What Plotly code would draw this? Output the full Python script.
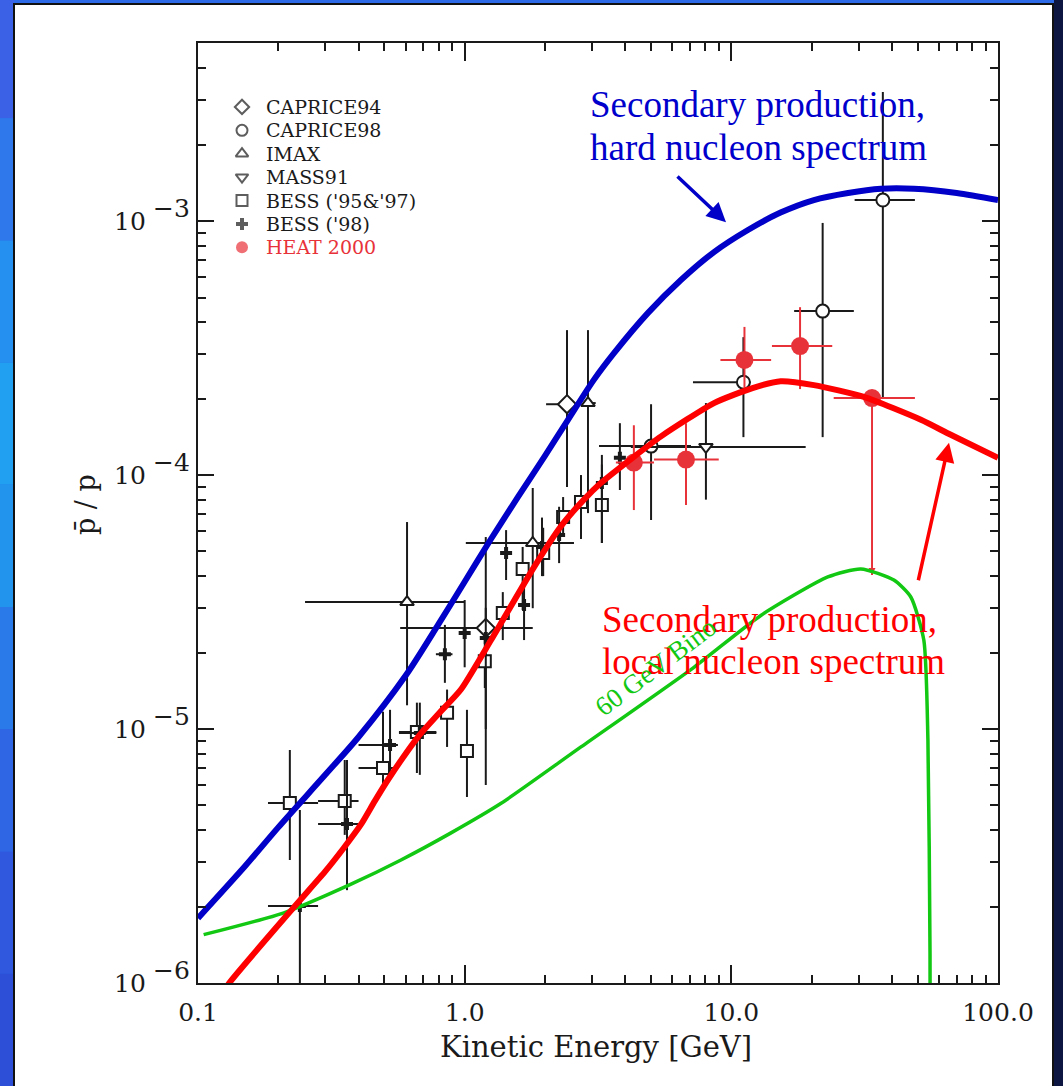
import numpy as np
import plotly.graph_objects as go

# ---------------- model curves (kinetic energy in GeV, pbar/p ratio) ----------------
hard_E = [0.1, 0.15, 0.2, 0.3, 0.4, 0.6, 0.8, 1.0, 1.25, 1.585, 2.0, 2.44, 3.05, 3.63,
          4.87, 6.47, 8.61, 11.5, 15.3, 20.4, 27.4, 36.4, 48.4, 70.0, 100.0]
hard_R = [1.80e-6, 2.88e-6, 4.10e-6, 6.60e-6, 9.30e-6, 1.62e-5, 2.60e-5, 3.80e-5, 5.56e-5,
          8.20e-5, 1.19e-4, 1.65e-4, 2.37e-4, 3.02e-4, 4.35e-4, 5.86e-4, 7.55e-4, 9.2e-4,
          1.08e-3, 1.21e-3, 1.29e-3, 1.34e-3, 1.34e-3, 1.29e-3, 1.21e-3]

local_E = [0.125, 0.131, 0.229, 0.30, 0.352, 0.408, 0.46, 0.515, 0.668, 0.80, 0.968, 1.256,
           1.82, 2.30, 2.8, 3.24, 4.31, 5.45, 8.61, 12.0, 15.3, 20.4, 31.4, 51.4, 66.5, 100.0]
local_R = [9.2e-7, 1.0e-6, 1.99e-6, 2.75e-6, 3.40e-6, 4.2e-6, 5.2e-6, 6.3e-6, 9.3e-6, 1.15e-5,
           1.43e-5, 2.24e-5, 4.34e-5, 6.3e-5, 8.0e-5, 9.3e-5, 1.18e-4, 1.42e-4, 1.92e-4,
           2.2e-4, 2.34e-4, 2.26e-4, 2.03e-4, 1.65e-4, 1.44e-4, 1.17e-4]

bino_E = [0.105, 0.210, 0.375, 0.577, 0.889, 1.37, 2.73, 7.24, 12.9, 23.0, 30.6, 40.7,
          47.1, 52.7, 54.6, 55.6, 55.7]
bino_R = [1.55e-6, 1.89e-6, 2.45e-6, 3.05e-6, 3.9e-6, 5.1e-6, 8.5e-6, 1.75e-5, 2.8e-5,
          3.97e-5, 4.27e-5, 3.86e-5, 3.31e-5, 2.24e-5, 9.06e-6, 1.3e-6, 5.0e-7]

# ---------------- measurements ----------------
# each set: energy, ratio, energy-bin low/high, ratio low/high
caprice94_E = [1.20, 2.42]
caprice94_R = [2.50e-5, 1.90e-4]
caprice94_Elo = [0.573, 2.02]
caprice94_Ehi = [1.80, 2.57]
caprice94_Rlo = [6.02e-6, 8.97e-5]
caprice94_Rhi = [5.70e-5, 3.72e-4]

caprice98_E = [5.0, 11.1, 22.0, 37.0]
caprice98_R = [1.30e-4, 2.32e-4, 4.42e-4, 1.21e-3]
caprice98_Elo = [3.19, 7.18, 17.2, 29.0]
caprice98_Ehi = [7.06, 11.8, 28.8, 48.8]
caprice98_Rlo = [6.65e-5, 1.41e-4, 1.41e-4, 2.03e-4]
caprice98_Rhi = [1.90e-4, 3.49e-4, 9.83e-4, 3.22e-3]

imax_E = [0.608, 1.80, 2.90]
imax_R = [3.16e-5, 5.40e-5, 1.92e-4]
imax_Elo = [0.252, 1.01, 2.90]
imax_Ehi = [1.0, 2.57, 3.10]
imax_Rlo = [1.24e-5, 2.99e-5, 7.08e-5]
imax_Rhi = [6.53e-5, 8.89e-5, 3.72e-4]

mass91_E = [8.03]
mass91_R = [1.29e-4]
mass91_Elo = [4.2]
mass91_Ehi = [19.0]
mass91_Rlo = [8.0e-5]
mass91_Rhi = [1.92e-4]

bess9597_E = [0.221, 0.355, 0.494, 0.662, 0.859, 1.02, 1.19, 1.39, 1.65, 1.97, 2.34, 2.73, 3.27]
bess9597_R = [5.11e-6, 5.21e-6, 7.02e-6, 9.73e-6, 1.16e-5, 8.19e-6, 1.85e-5, 2.86e-5,
              4.27e-5, 4.93e-5, 6.84e-5, 7.83e-5, 7.62e-5]
bess9597_Elo = [0.183, 0.282, 0.400, 0.567, 0.859, 0.98, 1.19, 1.36, 1.62, 1.93, 2.30, 2.68, 3.20]
bess9597_Ehi = [0.282, 0.400, 0.562, 0.783, 0.859, 1.02, 1.19, 1.39, 1.65, 1.97, 2.34, 2.73, 3.27]
bess9597_Rlo = [3.05e-6, 3.83e-6, 5.75e-6, 6.71e-6, 8.5e-6, 5.40e-6, 1.45e-5, 2.24e-5,
                2.94e-5, 4.0e-5, 5.70e-5, 5.6e-5, 5.4e-5]
bess9597_Rhi = [8.27e-6, 7.55e-6, 1.17e-5, 1.27e-5, 1.43e-5, 1.19e-5, 2.3e-5, 3.46e-5,
                5.21e-5, 6.2e-5, 8.19e-5, 1.0e-4, 1.1e-4]

bess98_E = [0.241, 0.362, 0.525, 0.679, 0.843, 1.00, 1.20, 1.43, 1.67, 1.95, 2.26, 3.27, 3.82]
bess98_R = [2.01e-6, 4.23e-6, 8.66e-6, 9.64e-6, 1.97e-5, 2.39e-5, 2.28e-5, 4.93e-5,
            3.08e-5, 5.21e-5, 5.80e-5, 9.3e-5, 1.17e-4]
bess98_Elo = [0.183, 0.282, 0.400, 0.567, 0.78, 0.96, 1.15, 1.38, 1.60, 1.90, 2.20, 3.17, 3.70]
bess98_Ehi = [0.282, 0.400, 0.562, 0.783, 0.90, 1.04, 1.25, 1.48, 1.74, 2.00, 2.32, 3.37, 3.95]
bess98_Rlo = [5.0e-7, 2.32e-6, 6.71e-6, 6.6e-6, 1.52e-5, 1.75e-5, 1.0e-5, 3.86e-5,
              2.24e-5, 4.0e-5, 4.5e-5, 5.40e-5, 8.73e-5]
bess98_Rhi = [4.8e-6, 7.55e-6, 1.19e-5, 1.27e-5, 2.57e-5, 3.22e-5, 3.0e-5, 6.07e-5,
              3.76e-5, 6.8e-5, 7.5e-5, 1.20e-4, 1.60e-4]

heat_E = [4.31, 6.76, 11.2, 18.1, 33.7]
heat_R = [1.12e-4, 1.15e-4, 2.84e-4, 3.22e-4, 2.01e-4]
heat_Elo = [3.69, 5.13, 9.1, 14.2, 24.2]
heat_Ehi = [5.13, 8.97, 14.1, 23.9, 48.8]
heat_Rlo = [7.28e-5, 7.62e-5, 2.20e-4, 2.18e-4, 4.04e-5]
heat_Rhi = [1.57e-4, 1.60e-4, 3.83e-4, 4.58e-4, 2.01e-4]

legend_names = ["CAPRICE94", "CAPRICE98", "IMAX", "MASS91", "BESS ('95&'97)", "BESS ('98)", "HEAT 2000"]

x_ticks = [0.1, 1.0, 10.0, 100.0]
x_labels = ["0.1", "1.0", "10.0", "100.0"]
y_exponents = [-6, -5, -4, -3]

# ---------------- styling ----------------
INK = "#1a1a1a"
HEAT_RED = "#e8323a"
AXIS_FONT = "DejaVu Serif"
NOTE_FONT = "Liberation Serif"


def bars(v, lo, hi, color):
    return dict(type="data", symmetric=False,
                array=[h - c for c, h in zip(v, hi)],
                arrayminus=[c - l for c, l in zip(v, lo)],
                color=color, thickness=2, width=0)


def dataset(E, R, Elo, Ehi, Rlo, Rhi, symbol, size, fill, edge, edge_w, bar_color):
    return go.Scatter(
        x=E, y=R, mode="markers", showlegend=False,
        marker=dict(symbol=symbol, size=size, color=fill,
                    line=dict(color=edge, width=edge_w)),
        error_x=bars(E, Elo, Ehi, bar_color),
        error_y=bars(R, Rlo, Rhi, bar_color),
    )


fig = go.Figure()

styles = [
    (caprice94_E, caprice94_R, caprice94_Elo, caprice94_Ehi, caprice94_Rlo, caprice94_Rhi,
     "diamond", 14, "white", INK, 2, INK),
    (caprice98_E, caprice98_R, caprice98_Elo, caprice98_Ehi, caprice98_Rlo, caprice98_Rhi,
     "circle", 13, "white", INK, 2, INK),
    (imax_E, imax_R, imax_Elo, imax_Ehi, imax_Rlo, imax_Rhi,
     "triangle-up", 12, "white", INK, 2, INK),
    (mass91_E, mass91_R, mass91_Elo, mass91_Ehi, mass91_Rlo, mass91_Rhi,
     "triangle-down", 12, "white", INK, 2, INK),
    (bess9597_E, bess9597_R, bess9597_Elo, bess9597_Ehi, bess9597_Rlo, bess9597_Rhi,
     "square", 12, "white", INK, 2, INK),
    (bess98_E, bess98_R, bess98_Elo, bess98_Ehi, bess98_Rlo, bess98_Rhi,
     "cross", 10, INK, INK, 0, INK),
    (heat_E, heat_R, heat_Elo, heat_Ehi, heat_Rlo, heat_Rhi,
     "circle", 18, HEAT_RED, HEAT_RED, 0, HEAT_RED),
]
for s in styles:
    fig.add_trace(dataset(*s))

# small downward tip on the last HEAT bar (lower bound only)
fig.add_trace(go.Scatter(
    x=heat_E[-1:], y=heat_Rlo[-1:], mode="markers", showlegend=False, hoverinfo="skip",
    marker=dict(symbol="arrow-down", size=7, color=HEAT_RED, line=dict(width=0)),
))

# model curves on top of the points
fig.add_trace(go.Scatter(x=bino_E, y=bino_R, mode="lines", showlegend=False,
                         line=dict(color="#12c812", width=3.5, shape="spline", smoothing=0.6)))
fig.add_trace(go.Scatter(x=local_E, y=local_R, mode="lines", showlegend=False,
                         line=dict(color="#ff0000", width=6, shape="spline", smoothing=0.6)))
fig.add_trace(go.Scatter(x=hard_E, y=hard_R, mode="lines", showlegend=False,
                         line=dict(color="#0000c8", width=6, shape="spline", smoothing=0.8)))

# symbol key drawn on an overlay unit axis
key_x = 0.055
key_top = 0.932
key_step = 0.0249
key_y = [key_top - i * key_step for i in range(len(legend_names))]
key_syms = [s[6] for s in styles]
key_fill = [s[8] for s in styles]
key_edge = [s[9] for s in styles]
key_edge_w = [s[10] for s in styles]
key_size = [11, 11, 11, 11, 11, 10, 12]
fig.add_trace(go.Scatter(
    x=[key_x] * len(legend_names), y=key_y, xaxis="x2", yaxis="y2",
    mode="markers", showlegend=False, hoverinfo="skip",
    marker=dict(symbol=key_syms, size=key_size, color=key_fill,
                line=dict(color=key_edge, width=key_edge_w)),
))

annotations = []
for i, name in enumerate(legend_names):
    annotations.append(dict(
        xref="paper", yref="paper", x=0.0825, y=key_y[i], xanchor="left", yanchor="middle",
        text=name, showarrow=False,
        font=dict(family=AXIS_FONT, size=19, color=HEAT_RED if i == len(legend_names) - 1 else INK),
    ))

# y tick labels: "10" with a raised, full-size exponent
for e in y_exponents:
    annotations.append(dict(
        xref="paper", yref="y", x=(148 - 198) / 800, y=e, xanchor="right", yanchor="middle",
        text="10", showarrow=False, font=dict(family=AXIS_FONT, size=25, color=INK),
    ))
    annotations.append(dict(
        xref="paper", yref="y", x=(151 - 198) / 800, y=e, xanchor="left", yanchor="middle",
        yshift=13, text="\u2212%d" % abs(e), showarrow=False,
        font=dict(family=AXIS_FONT, size=25, color=INK),
    ))

# curve labels
for txt, xx, yy, col in [("Secondary production,", 588, 104, "#0000cc"),
                         ("hard nucleon spectrum", 588, 147, "#0000cc"),
                         ("Secondary production,", 600, 619, "#ff0000"),
                         ("local nucleon spectrum", 600, 662, "#ff0000")]:
    annotations.append(dict(
        xref="paper", yref="paper", x=(xx - 198) / 800,
        y=(983 - yy) / 940, xanchor="left", yanchor="middle", text=txt, showarrow=False,
        font=dict(family=NOTE_FONT, size=37, color=col),
    ))

annotations.append(dict(
    xref="x", yref="y", x=np.log10(5.2), y=np.log10(1.75e-5), text="60 GeV Bino",
    textangle=-37, showarrow=False, font=dict(family=NOTE_FONT, size=27, color="#12c812"),
))

# arrows from the labels to their curves
annotations.append(dict(
    xref="x", yref="y", x=np.log10(9.55), y=np.log10(9.9e-4), ax=-50, ay=-47, text="",
    showarrow=True, arrowhead=2, arrowsize=1.1, arrowwidth=3.5, arrowcolor="#0000c8",
))
annotations.append(dict(
    xref="x", yref="y", x=np.log10(65.5), y=np.log10(1.34e-4), ax=-31, ay=139, text="",
    showarrow=True, arrowhead=2, arrowsize=1.1, arrowwidth=3.5, arrowcolor="#ff0000",
))

# axis titles
annotations.append(dict(
    xref="paper", yref="paper", x=(596 - 198) / 800, y=(983 - 1047) / 940,
    xanchor="center", yanchor="middle", text="Kinetic Energy [GeV]", showarrow=False,
    font=dict(family=AXIS_FONT, size=29, color=INK),
))
annotations.append(dict(
    xref="paper", yref="paper", x=(85 - 198) / 800, y=(983 - 505) / 940,
    xanchor="center", yanchor="middle", text="p\u0304 / p", textangle=-90, showarrow=False,
    font=dict(family=AXIS_FONT, size=27, color=INK),
))

axis_common = dict(
    showgrid=False, zeroline=False, showline=True, linecolor=INK, linewidth=2,
    mirror="ticks", ticks="inside", tickwidth=2, tickcolor=INK,
    tickfont=dict(family=AXIS_FONT, size=25, color=INK),
    minor=dict(ticks="inside", ticklen=8, tickwidth=2, tickcolor=INK, dtick="D1", showgrid=False),
)

# blue frame around the white page, lighter towards the middle of the left edge
band_cols = ["#3b62e6", "#2f78ec", "#2590f0", "#21a0f2", "#2394ee", "#2a7aea",
             "#2f66e4", "#2f58de", "#2d4ed6", "#2a46cc"]
shapes = []
for i, c in enumerate(band_cols):
    shapes.append(dict(type="rect", xref="paper", yref="paper", layer="below",
                       x0=-0.3, x1=(14 - 198) / 800,
                       y0=1.05 - (i + 1) * 1.3 / len(band_cols), y1=1.05 - i * 1.3 / len(band_cols),
                       fillcolor=c, line=dict(width=0)))
shapes += [
    dict(type="rect", xref="paper", yref="paper", layer="below",
         x0=(14 - 198) / 800, x1=(1053 - 198) / 800, y0=-0.2, y1=(983 - 4) / 940,
         fillcolor="white", line=dict(color="#111111", width=2)),
    dict(type="rect", xref="paper", yref="paper", layer="below",
         x0=(1054 - 198) / 800, x1=1.2, y0=-0.2, y1=1.2,
         fillcolor="#0c1640", line=dict(width=0)),
]

fig.update_layout(
    width=1063, height=1086,
    margin=dict(l=198, r=65, t=43, b=103),
    paper_bgcolor="#2d6ae8", plot_bgcolor="white",
    xaxis=dict(type="log", range=[-1, 2], tickvals=x_ticks, ticktext=x_labels,
               ticklen=18, ticklabelstandoff=6, **axis_common),
    yaxis=dict(type="log", range=[-6, -2.299], tickvals=[10.0 ** e for e in y_exponents],
               showticklabels=False, ticklen=16, **axis_common),
    xaxis2=dict(overlaying="x", range=[0, 1], visible=False),
    yaxis2=dict(overlaying="y", range=[0, 1], visible=False),
    annotations=annotations,
    shapes=shapes,
)

fig.write_html("out.html")
